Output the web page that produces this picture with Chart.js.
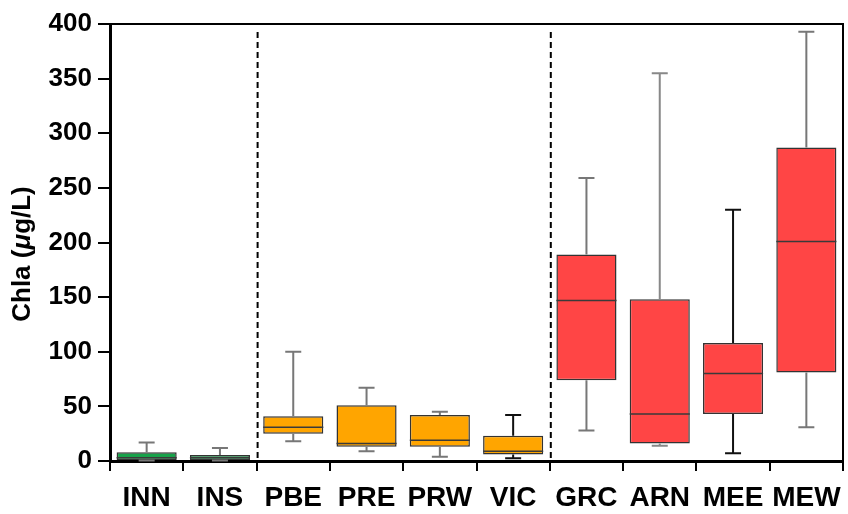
<!DOCTYPE html>
<html>
<head>
<meta charset="utf-8">
<script src="https://cdn.jsdelivr.net/npm/chart.js@4.4.1/dist/chart.umd.min.js"></script>
<style>
  html, body { margin: 0; padding: 0; background: #fff; }
  #wrap { width: 848px; height: 514px; }
</style>
</head>
<body>
<div id="wrap"><canvas id="myChart" width="848" height="514"></canvas></div>
<script>
// sites
let sites = ['INN', 'INS', 'PBE', 'PRE', 'PRW', 'VIC', 'GRC', 'ARN', 'MEE', 'MEW'];

// box plot values (Chla, ug/L)
let mins    = [0.5, 0.5, 18,  9,  4, 2.5,  28,  14,   7,  31];
let q1s     = [1,   1,   25, 13, 13,   6,  74,  16,  43,  81];
let medians = [3,   3,   31, 16, 19,   9, 147,  43,  80, 201];
let q3s     = [8,   5.5, 41, 51, 42,  23, 189, 148, 108, 287];
let maxs    = [17,  12, 100, 67, 45,  42, 259, 355, 230, 393];

let yTicks = [0, 50, 100, 150, 200, 250, 300, 350, 400];

// colours by group
let boxColors = ['#17a24a', '#17a24a', '#ffa500', '#ffa500', '#ffa500', '#ffa500', '#ff4545', '#ff4545', '#ff4545', '#ff4545'];
let whiskerColors = ['#777', '#777', '#777', '#777', '#777', '#111', '#777', '#888', '#111', '#777'];

// group separators sit after these indexes
let separators = [1, 5];

const fontFam = '"Liberation Sans", Arial, Helvetica, sans-serif';

let boxes = [];
for (let i = 0; i < sites.length; i++) {
  boxes.push([q1s[i], q3s[i]]);
}

// whiskers, medians, separators, frame and y title
const boxPlotExtras = {
  id: 'boxPlotExtras',
  afterDatasetsDraw(chart) {
    const ctx = chart.ctx;
    const x = chart.scales.x;
    const y = chart.scales.y;
    const area = chart.chartArea;
    const meta = chart.getDatasetMeta(0);

    ctx.save();
    for (let i = 0; i < sites.length; i++) {
      const bar = meta.data[i];
      const cx = x.getPixelForValue(i);
      const half = bar.width / 2;
      const cap = 8;

      // whiskers
      ctx.strokeStyle = whiskerColors[i];
      ctx.lineWidth = 2;
      ctx.beginPath();
      ctx.moveTo(cx, y.getPixelForValue(q3s[i]));
      ctx.lineTo(cx, y.getPixelForValue(maxs[i]));
      ctx.moveTo(cx - cap, y.getPixelForValue(maxs[i]));
      ctx.lineTo(cx + cap, y.getPixelForValue(maxs[i]));
      ctx.moveTo(cx, y.getPixelForValue(q1s[i]));
      ctx.lineTo(cx, y.getPixelForValue(mins[i]));
      ctx.moveTo(cx - cap, y.getPixelForValue(mins[i]));
      ctx.lineTo(cx + cap, y.getPixelForValue(mins[i]));
      ctx.stroke();

      // median
      ctx.strokeStyle = '#3a3a3a';
      ctx.lineWidth = 1.5;
      ctx.beginPath();
      ctx.moveTo(cx - half, y.getPixelForValue(medians[i]));
      ctx.lineTo(cx + half, y.getPixelForValue(medians[i]));
      ctx.stroke();
    }

    // dashed group separators
    ctx.strokeStyle = '#000';
    ctx.lineWidth = 2;
    ctx.setLineDash([6, 4]);
    for (let s = 0; s < separators.length; s++) {
      const sx = (x.getPixelForValue(separators[s]) + x.getPixelForValue(separators[s] + 1)) / 2 + 1;
      ctx.beginPath();
      ctx.moveTo(sx, area.top + 8);
      ctx.lineTo(sx, area.bottom);
      ctx.stroke();
    }
    ctx.setLineDash([]);

    // top and right frame
    ctx.lineWidth = 2;
    ctx.beginPath();
    ctx.moveTo(area.left, area.top);
    ctx.lineTo(area.right, area.top);
    ctx.lineTo(area.right, area.bottom);
    ctx.stroke();

    // y axis title with italic mu
    const parts = [['Chla (', 'bold'], ['\u03bc', 'italic bold'], ['g/L)', 'bold']];
    const size = 26;
    let total = 0;
    for (let p = 0; p < parts.length; p++) {
      ctx.font = parts[p][1] + ' ' + size + 'px ' + fontFam;
      total += ctx.measureText(parts[p][0]).width;
    }
    ctx.translate(23, 254);
    ctx.rotate(-Math.PI / 2);
    ctx.fillStyle = '#000';
    ctx.textBaseline = 'middle';
    ctx.textAlign = 'left';
    let pos = -total / 2;
    for (let p = 0; p < parts.length; p++) {
      ctx.font = parts[p][1] + ' ' + size + 'px ' + fontFam;
      ctx.fillText(parts[p][0], pos, 0);
      pos += ctx.measureText(parts[p][0]).width;
    }
    ctx.restore();
  }
};

let ctx = document.getElementById('myChart').getContext('2d');
let chart = new Chart(ctx, {
  type: 'bar',
  data: {
    labels: sites,
    datasets: [{
      label: 'Chla',
      data: boxes,
      backgroundColor: boxColors,
      borderColor: '#333',
      borderWidth: 1.5,
      borderSkipped: false,
      barPercentage: 0.82,
      categoryPercentage: 1
    }]
  },
  options: {
    responsive: false,
    animation: false,
    layout: { padding: { top: 24, right: 5, left: 0, bottom: 0 } },
    plugins: {
      legend: { display: false },
      tooltip: { enabled: false }
    },
    scales: {
      x: {
        grid: { display: true, drawOnChartArea: false, drawTicks: true, tickLength: 10, color: '#000', lineWidth: 2, offset: true },
        border: { display: true, color: '#000', width: 3 },
        ticks: { color: '#000', padding: 10, maxRotation: 0, minRotation: 0, autoSkip: false, font: { family: fontFam, size: 28, weight: 'bold' } },
        afterFit(scale) {
          scale.height = 53;
          scale.paddingLeft = 0;
          scale.paddingRight = 0;
        }
      },
      y: {
        min: 0,
        max: 400,
        afterBuildTicks(scale) { scale.ticks = yTicks.map(v => ({ value: v })); },
        grid: { display: true, drawOnChartArea: false, drawTicks: true, tickLength: 12, color: '#000', lineWidth: 2 },
        border: { display: true, color: '#000', width: 3 },
        ticks: { color: '#000', padding: 6, font: { family: fontFam, size: 26, weight: 'bold' } },
        afterFit(scale) { scale.width = 110; }
      }
    }
  },
  plugins: [boxPlotExtras]
});
</script>
</body>
</html>
